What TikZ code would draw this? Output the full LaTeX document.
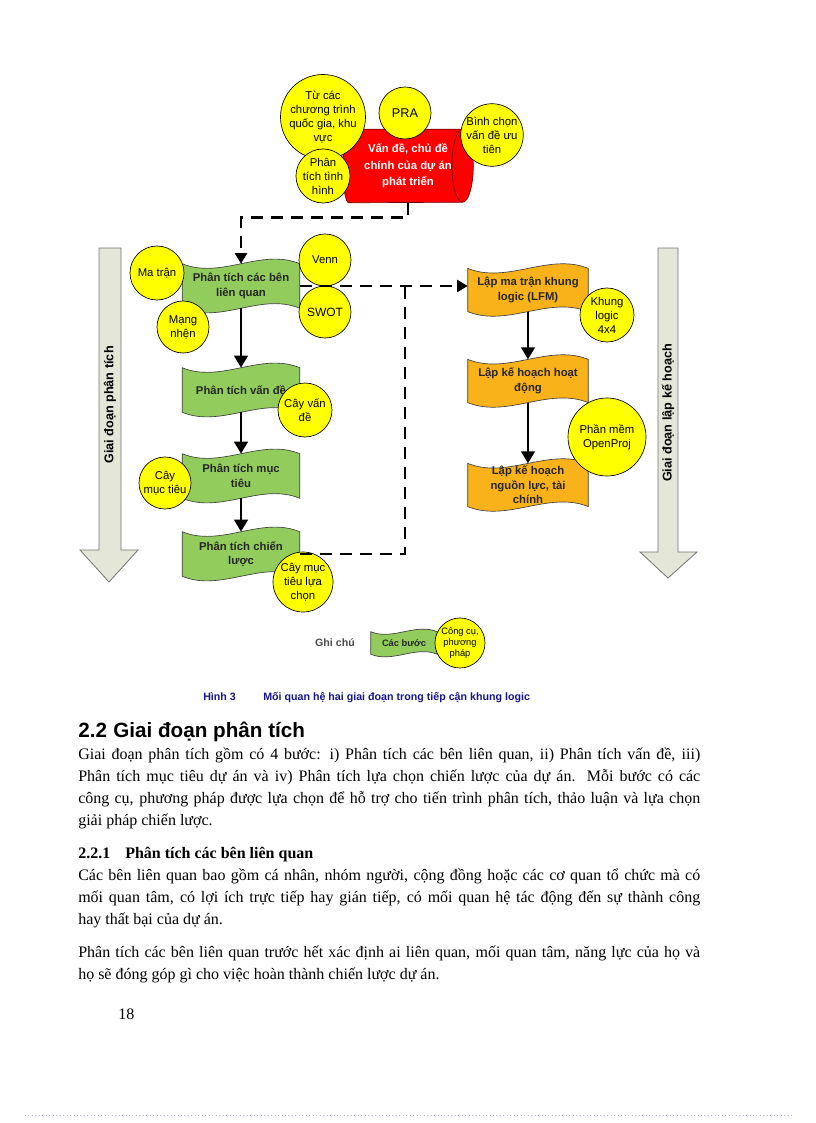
\documentclass[tikz,border=0pt]{standalone}
\usepackage{fontspec}
\setmainfont{Liberation Serif}
\setsansfont{Liberation Sans}
\usetikzlibrary{arrows.meta,calc}
\pgfdeclarelayer{bg}
\pgfsetlayers{bg,main}
\definecolor{cgreen}{RGB}{146,204,92}
\definecolor{corange}{RGB}{250,178,26}
\definecolor{cyel}{RGB}{255,255,0}
\definecolor{cred}{RGB}{255,0,0}
\definecolor{carrow}{RGB}{228,230,216}
\definecolor{ccap}{RGB}{22,22,140}
\newcommand\wavebox[3]{%
  \path[draw=black!75, line width=0.5pt, fill=#2]
    (#1.north west) .. controls ($(#1.north west)!0.33!(#1.north east)+(0,#3)$) and ($(#1.north west)!0.67!(#1.north east)+(0,-#3)$) .. (#1.north east)
    -- (#1.south east) .. controls ($(#1.south west)!0.67!(#1.south east)+(0,-#3)$) and ($(#1.south west)!0.33!(#1.south east)+(0,#3)$) .. (#1.south west) -- cycle;}
\begin{document}
\begin{tikzpicture}[x=0.75pt,y=-0.75pt,
  circ/.style={circle, draw=black, line width=0.5pt, fill=cyel, inner sep=0pt, align=center,
    font=\sffamily\fontsize{8.5}{10.5}\selectfont, minimum size=#1},
  circ/.default=39pt,
  gbox/.style={rectangle, inner sep=0pt, minimum width=87.75pt, minimum height=33pt, align=center,
    font=\sffamily\bfseries\fontsize{8.5}{11}\selectfont, text=black!85},
  obox/.style={gbox, minimum width=90pt, minimum height=32pt},
  dashline/.style={line width=2.2pt, dash pattern=on 9pt off 6pt, -{Triangle[width=9pt,length=8pt]}},
  dashplain/.style={line width=2.2pt, dash pattern=on 9pt off 6pt},
  solidarrow/.style={line width=2.2pt, -{Triangle[width=10pt,length=9pt]}},
  bigarrow/.style={draw=black!55, line width=0.6pt, fill=carrow},
  phase/.style={rotate=90, inner sep=0pt, font=\sffamily\bfseries\fontsize{9.5}{11}\selectfont},
  body/.style={anchor=base west, inner sep=0pt, font=\fontsize{12}{14}\selectfont},
]
\begin{pgfonlayer}{bg}
  \fill[white] (0,0) rectangle (816,1123);
\end{pgfonlayer}
\useasboundingbox (0,0) rectangle (816,1123);

% big phase arrows
\draw[bigarrow] (99,248) -- (121,248) -- (121,550) -- (138,550) -- (109,582) -- (80,550) -- (99,550) -- cycle;
\draw[bigarrow] (658,248) -- (678,248) -- (678,552) -- (697,552) -- (668,578) -- (640,552) -- (658,552) -- cycle;
\node[phase] (ph1) at (110,405) {Giai đoạn phân tích};
\node[phase] (ph2) at (668,413) {Giai đoạn lập kế hoạch};

% step boxes
\node[rectangle, minimum width=97.5pt, minimum height=54.75pt, inner sep=0pt, align=center, text=white,
  font=\sffamily\bfseries\fontsize{8.5}{12.5}\selectfont] (red) at (408,166) {Vấn đề, chủ đề\\chính của dự án\\phát triển};
\node[gbox] (s1) at (241,286) {Phân tích các bên\\liên quan};
\node[gbox] (s2) at (241,390) {Phân tích vấn đề};
\node[gbox] (s3) at (241,476) {Phân tích mục\\tiêu};
\node[gbox] (s4) at (241,554) {Phân tích chiến\\lược};
\node[obox] (p1) at (528,290) {Lập ma trận khung\\logic (LFM)};
\node[obox] (p2) at (528,381) {Lập kế hoạch hoạt\\động};
\node[obox] (p3) at (528,485) {Lập kế hoạch\\nguồn lực, tài\\chính};
\node[gbox, minimum width=49.5pt, minimum height=16.5pt, font=\sffamily\bfseries\fontsize{7}{8}\selectfont] (lg) at (404,643) {Các bước};

\begin{pgfonlayer}{bg}
  \wavebox{s1}{cgreen}{16}
  \wavebox{s2}{cgreen}{16}
  \wavebox{s3}{cgreen}{16}
  \wavebox{s4}{cgreen}{16}
  \wavebox{p1}{corange}{16}
  \wavebox{p2}{corange}{16}
  \wavebox{p3}{corange}{16}
  \wavebox{lg}{cgreen}{9}
  \path[fill=cred, draw=red!45!black, line width=0.5pt]
    ($(red.north west)+(6,0)$) -- ($(red.north east)+(-10.67,0)$)
    arc[start angle=90, end angle=-90, x radius=8pt, y radius=27.375pt]
    -- ($(red.south west)+(6,0)$)
    arc[start angle=270, end angle=90, x radius=4.5pt, y radius=27.375pt] -- cycle;
  \draw[red!45!black, line width=0.5pt] ($(red.north east)+(-10.67,0)$)
    arc[start angle=90, end angle=270, x radius=8pt, y radius=27.375pt];
\end{pgfonlayer}

% tool circles
\node[circ=58.5pt] (c1) at (323,117) {Từ các\\chương trình\\quốc gia, khu\\vực};
\node[circ, font=\sffamily\fontsize{9.5}{11}\selectfont] (pra) at (405,113) {PRA};
\node[circ=46.5pt] (binh) at (492,135) {Bình chọn\\vấn đề ưu\\tiên};
\node[circ=40.5pt] (tinh) at (323,176) {Phân\\tích tình\\hình};
\node[circ=40.5pt] (matran) at (157,273) {Ma trận};
\node[circ] (mang) at (183,327) {Mạng\\nhện};
\node[circ] (venn) at (325,260) {Venn};
\node[circ, font=\sffamily\fontsize{9}{11}\selectfont] (swot) at (325,312) {SWOT};
\node[circ=40.5pt] (cayvd) at (305,410) {Cây vấn\\đề};
\node[circ] (caymt) at (165,483) {Cây\\mục tiêu};
\node[circ=45pt] (caylc) at (303,582) {Cây mục\\tiêu lựa\\chọn};
\node[circ=40.5pt] (khung) at (607,315) {Khung\\logic\\4x4};
\node[circ=58.5pt] (openproj) at (607,437) {Phần mềm\\OpenProj};

% connectors
\coordinate (j) at (405,286);
\draw[dashline] (red.south) |- ($(s1.north)+(0,-46)$) -- (s1.north);
\draw[dashline] (s1.east) -- (s1.east -| p1.west);
\draw[dashplain] (s4.east) -| (j);
\draw[solidarrow] (s1.south) -- (s2.north);
\draw[solidarrow] (s2.south) -- (s3.north);
\draw[solidarrow] (s3.south) -- (s4.north);
\draw[solidarrow] (p1.south) -- (p2.north);
\draw[solidarrow] (p2.south) -- (p3.north);

% legend
\node[font=\sffamily\bfseries\fontsize{8}{9}\selectfont, text=black!70] (ghichu) at (335,643) {Ghi chú};
\node[circ=37.5pt, font=\sffamily\fontsize{7}{8.5}\selectfont] (cong) at (460,643) {Công cụ,\\phương\\pháp};

% caption
\node[anchor=base west, inner sep=0pt, text=ccap, font=\sffamily\bfseries\fontsize{8}{9}\selectfont] (cap1) at (203,700) {Hình 3};
\node[anchor=base west, inner sep=0pt, text=ccap, font=\sffamily\bfseries\fontsize{8}{9}\selectfont] (cap2) at (263,700) {Mối quan hệ hai giai đoạn trong tiếp cận khung logic};

% text
\node[anchor=base west, inner sep=0pt, font=\sffamily\bfseries\fontsize{15.5}{17}\selectfont] (h1n) at (78,737) {2.2};
\node[anchor=base west, inner sep=0pt, font=\sffamily\bfseries\fontsize{15.5}{17}\selectfont] (h1) at (113,737) {Giai đoạn phân tích};
\node[body] (t1) at (78,759) {\makebox[466.5pt][s]{Giai đoạn phân tích gồm có 4 bước: i) Phân tích các bên liên quan, ii) Phân tích vấn đề, iii)}};
\node[body] (t2) at (78,781) {\makebox[466.5pt][s]{Phân tích mục tiêu dự án và iv) Phân tích lựa chọn chiến lược của dự án. Mỗi bước có các}};
\node[body] (t3) at (78,803) {\makebox[466.5pt][s]{công cụ, phương pháp được lựa chọn để hỗ trợ cho tiến trình phân tích, thảo luận và lựa chọn}};
\node[body] (t4) at (78,825) {giải pháp chiến lược.};
\node[body, font=\bfseries\fontsize{12}{14}\selectfont] (h2n) at (78,858) {2.2.1};
\node[body, font=\bfseries\fontsize{12}{14}\selectfont] (h2) at (125,858) {Phân tích các bên liên quan};
\node[body] (t5) at (78,880) {\makebox[466.5pt][s]{Các bên liên quan bao gồm cá nhân, nhóm người, cộng đồng hoặc các cơ quan tổ chức mà có}};
\node[body] (t6) at (78,902) {\makebox[466.5pt][s]{mối quan tâm, có lợi ích trực tiếp hay gián tiếp, có mối quan hệ tác động đến sự thành công}};
\node[body] (t7) at (78,924) {hay thất bại của dự án.};
\node[body] (t8) at (78,957) {\makebox[466.5pt][s]{Phân tích các bên liên quan trước hết xác định ai liên quan, mối quan tâm, năng lực của họ và}};
\node[body] (t9) at (78,979) {họ sẽ đóng góp gì cho việc hoàn thành chiến lược dự án.};
\node[body] (pg) at (118,1019) {18};

\draw[line width=0.6pt, dotted, color=blue!25!gray!45] (25,1115) -- (793,1115);
\end{tikzpicture}
\end{document}
